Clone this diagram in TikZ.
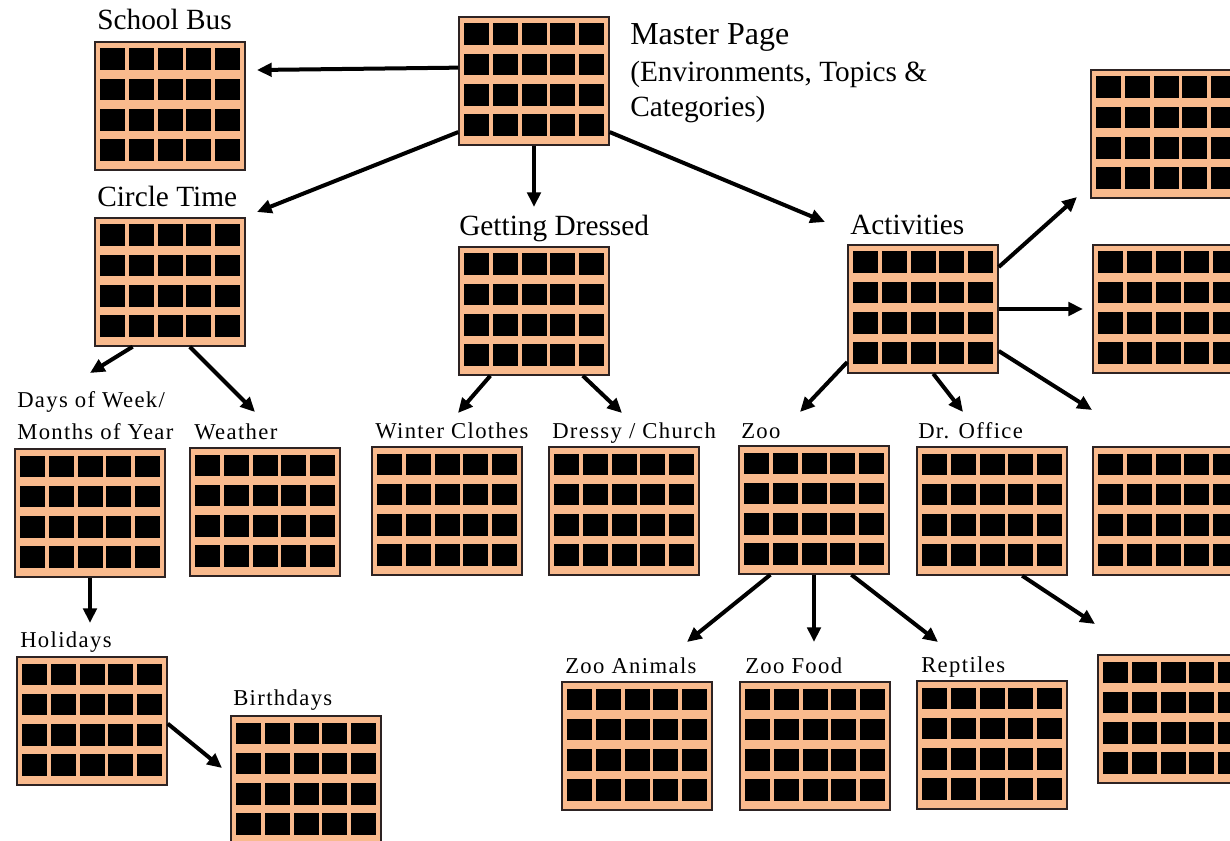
\documentclass[tikz,border=0pt]{standalone}
\usepackage{fontspec}
\setmainfont{Liberation Serif}
\newfontfamily\thinfont[LetterSpace=6]{Liberation Serif}
\usetikzlibrary{arrows.meta}

\definecolor{peach}{RGB}{249,186,141}
\definecolor{rim}{RGB}{45,35,35}

\begin{document}
\begin{tikzpicture}[x=0.75pt,y=-0.75pt]
%\draw[help lines] (0,0) grid (1230,841);
\tikzstyle{pg}=[rectangle,draw=rim,line width=1.1pt,fill=peach,minimum width=112.5pt,minimum height=96pt,inner sep=0pt,
  path picture={\foreach \i in {0,...,4} \foreach \j in {0,...,3}
    \fill[black] ([shift={(5+\i*28.75,6.5+\j*30.2)}]path picture bounding box.north west) rectangle ++(25,21.7);}]
\tikzstyle{big}=[anchor=base west,inner sep=0pt,font=\fontsize{22}{26}\selectfont]
\tikzstyle{sm}=[anchor=base west,inner sep=0pt,font=\thinfont\fontsize{17}{20}\selectfont]
\tikzstyle{ar}=[-{Triangle[length=11pt,width=10pt]},line width=3pt]

\useasboundingbox (0,0) rectangle (1230,841);
\clip (0,0) rectangle (1230,841);

% pages
\node[pg] (master) at (534,81) {};
\node[pg] (bus) at (170,106) {};
\node[pg] (circle) at (170,282) {};
\node[pg] (dressed) at (534,311) {};
\node[pg] (act) at (923,309) {};
\node[pg] (rtop) at (1166,134) {};
\node[pg] (rmid) at (1168,309) {};
\node[pg] (days) at (90,513) {};
\node[pg] (weather) at (265,512) {};
\node[pg] (winter) at (447,511) {};
\node[pg] (dressy) at (624,511) {};
\node[pg] (zoo) at (814,510) {};
\node[pg] (droffice) at (992,511) {};
\node[pg] (rlow) at (1168,511) {};
\node[pg] (holidays) at (92,721) {};
\node[pg] (birthdays) at (306,780) {};
\node[pg] (zooanimals) at (637,746) {};
\node[pg] (zoofood) at (815,746) {};
\node[pg] (reptiles) at (992,745) {};
\node[pg] (rbottom) at (1173,719) {};

% labels
\node[big,font=\fontsize{24}{28}\selectfont] (lmaster) at (630,45) {Master Page};
\node[big] (lenv) at (630,82) {(Environments, Topics \&};
\node[big] (lcat) at (630,117) {Categories)};
\node[big] (lbus) at (97,30) {School Bus};
\node[big] (lcircle) at (97,207) {Circle Time};
\node[big] (ldressed) at (459,236) {Getting Dressed};
\node[big] (lact) at (850,235) {Activities};
\node[sm] (ldays) at (17,407) {Days of Week/};
\node[sm] (lmonths) at (17,439) {Months of Year};
\node[sm] (lweather) at (194,439) {Weather};
\node[sm] (lwinter) at (375,438) {Winter Clothes};
\node[sm] (ldressy) at (552,438) {Dressy / Church};
\node[sm] (lzoo) at (741,438) {Zoo};
\node[sm] (ldr) at (918,438) {Dr. Office};
\node[sm] (lhol) at (20,647) {Holidays};
\node[sm] (lbirth) at (233,705) {Birthdays};
\node[sm] (lzooa) at (565,673) {Zoo Animals};
\node[sm] (lzoof) at (745,673) {Zoo Food};
\node[sm] (lrep) at (921,672) {Reptiles};

% arrow tips
\coordinate (tbus) at (257,70);
\coordinate (tcircle) at (257,212);
\coordinate (tdressed) at (534,207);
\coordinate (tact) at (825,222);
\coordinate (trtop) at (1077,197);
\coordinate (trmid) at (1083,309);
\coordinate (trlow) at (1092,410);
\coordinate (tdr) at (963,412);
\coordinate (tzoo) at (800,412);
\coordinate (tdays) at (90,373);
\coordinate (tweather) at (255,412);
\coordinate (twinter) at (458,413);
\coordinate (tdressy) at (622,413);
\coordinate (thol) at (90,623);
\coordinate (tbirth) at (222,768);
\coordinate (tzooa) at (687,642);
\coordinate (tzoof) at (814,642);
\coordinate (trep) at (938,642);
\coordinate (trbottom) at (1095,624);

\path (master.170) edge[ar] (tbus);
\path (master.-146) edge[ar] (tcircle);
\path (master.south) edge[ar] (tdressed);
\path (master.-34) edge[ar] (tact);
\path (act.29) edge[ar] (trtop);
\path (act.east) edge[ar] (trmid);
\path (act.-29) edge[ar] (trlow);
\path (act.-81) edge[ar] (tdr);
\path (act.-145) edge[ar] (tzoo);
\path (circle.-120) edge[ar] (tdays);
\path (circle.-73) edge[ar] (tweather);
\path (dressed.-124) edge[ar] (twinter);
\path (dressed.-53) edge[ar] (tdressy);
\path (days.south) edge[ar] (thol);
\path (holidays.-2) edge[ar] (tbirth);
\path (zoo.-124) edge[ar] (tzooa);
\path (zoo.south) edge[ar] (tzoof);
\path (zoo.-60) edge[ar] (trep);
\path (droffice.-65) edge[ar] (trbottom);
\end{tikzpicture}
\end{document}
